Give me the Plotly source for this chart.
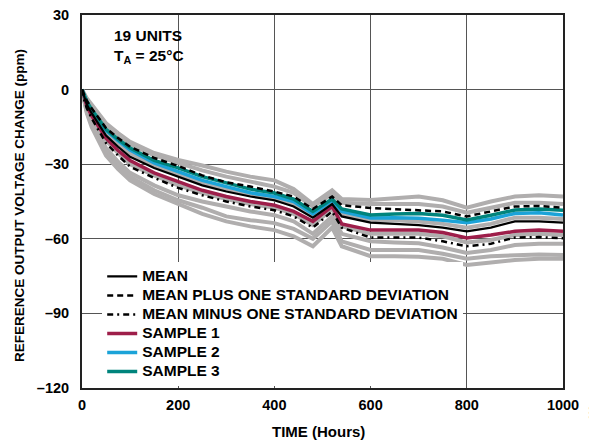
import plotly.graph_objects as go

hours = [0, 5, 10, 20, 35, 50, 75, 100, 150, 200, 250, 300, 350, 400, 440, 480,
         520, 540, 600, 650, 700, 750, 800, 850, 900, 950, 1000]

mean = [0, -3.5, -6, -9.5, -14, -18.5, -23, -27, -31.5, -35, -38.5, -41, -43, -44.5, -47, -51.5,
        -46, -51, -53.5, -54, -54.5, -55.5, -57, -55.5, -53, -53, -53.5]
mean_plus = [0, -2.5, -4.5, -7.5, -11.5, -15.5, -19.5, -23, -27.5, -30.7, -34.5, -37.3, -39, -41, -43, -48,
             -43, -46.5, -47.6, -48, -48.4, -49, -51, -49, -47, -46.8, -47.5]
mean_minus = [0, -4.5, -7.5, -11.5, -16.5, -21.5, -26.5, -31, -35.5, -39.5, -42.5, -45, -47, -48.5, -51, -55.5,
              -49, -55.5, -59.5, -59.5, -59.5, -61, -63, -62, -59.5, -59.3, -59.8]
sample1 = [0, -3.8, -6.5, -10.5, -15, -19.5, -24.5, -28.5, -33.5, -37, -40.5, -43, -45, -46.5, -49, -53,
           -47, -54, -56.5, -56.5, -56.5, -57.5, -59.7, -58.5, -57, -56.5, -57]
sample2 = [0, -2.8, -5, -8.5, -12.5, -16.5, -20.5, -24.3, -29.5, -33, -36.5, -39, -41.5, -43, -45, -50,
           -44.5, -49, -51.6, -51.5, -51.7, -52.5, -53.5, -52, -49.8, -49.5, -50.4]
sample3 = [0, -2.6, -4.8, -8, -12, -16, -20, -23.5, -28.5, -31.5, -35, -37.6, -40, -41.6, -44, -49,
           -44, -48, -50.4, -50, -49.8, -50.5, -52.4, -50.5, -48.4, -48, -48.5]

unit_a = [0, -2, -3.5, -6, -9.5, -13.5, -17.5, -21, -25.5, -28.3, -30.5, -33, -35, -36.5, -40, -46,
          -40.5, -44, -44.4, -43.5, -43, -44.5, -47.5, -45, -43, -42.5, -43]
unit_b = [0, -2.2, -4, -6.8, -10.5, -14.5, -18.5, -22, -26.5, -29.5, -32.5, -35, -37, -39, -41.5, -47,
          -42, -45.5, -46, -46, -46, -47, -49.5, -47.5, -45.5, -45.5, -46]
unit_c = [0, -3.2, -5.5, -9, -13.3, -17.5, -22, -25.5, -30.5, -34, -37.5, -40, -42, -44, -46, -50.5,
          -45, -50, -52.5, -52.5, -53, -54, -55.5, -54, -51.5, -51.5, -52]
unit_d = [0, -4.2, -7, -11, -15.8, -20.5, -25.5, -30, -34.5, -38.5, -41.5, -44, -46, -47.5, -50, -54.5,
          -48, -55, -58, -58, -58, -59, -61.5, -60.5, -58.5, -58, -58.5]
unit_e = [0, -5, -8.5, -13, -18.5, -23.5, -29, -33.5, -38.5, -42.5, -45, -47, -49, -50.5, -53, -58,
          -51, -58, -61, -61.5, -61.8, -63.5, -65.7, -64.5, -62.5, -62, -62]
unit_f = [0, -5.5, -9, -14, -19.5, -25, -30.5, -35, -40.5, -44.5, -47.5, -51, -52.5, -53.7, -56, -60,
          -53, -61, -64.5, -64.5, -64.5, -66, -68, -67, -66.5, -66.3, -66.5]
unit_g = [0, -6, -9.5, -15, -21, -26.5, -32, -36.5, -42, -46, -50, -53, -55, -56.5, -59, -63,
          -55.5, -63, -67, -67, -67.2, -68, -70.5, -69.5, -68.5, -68, -68]
gray_units = [unit_a, unit_b, unit_c, unit_d, unit_e, unit_f, unit_g]

x_ticks = [0, 200, 400, 600, 800, 1000]
y_ticks = [30, 0, -30, -60, -90, -120]
y_ticktext = ["30", "0", "–30", "–60", "–90", "–120"]

legend_names = ["MEAN", "MEAN PLUS ONE STANDARD DEVIATION", "MEAN MINUS ONE STANDARD DEVIATION",
                "SAMPLE 1", "SAMPLE 2", "SAMPLE 3"]


def big(t):
    return '<span style="font-size:15.5px">' + t + "</span>"


fig = go.Figure()

for u in gray_units:
    fig.add_trace(go.Scatter(x=hours, y=u, mode="lines", showlegend=False,
                             line=dict(color="#B0AEAE", width=4), hoverinfo="skip"))

fig.add_trace(go.Scatter(x=hours, y=sample1, mode="lines", name=big(legend_names[3]), legendrank=4,
                         line=dict(color="#9E1E4A", width=3.5)))
fig.add_trace(go.Scatter(x=hours, y=sample2, mode="lines", name=big(legend_names[4]), legendrank=5,
                         line=dict(color="#1BA3D8", width=3.5)))
fig.add_trace(go.Scatter(x=hours, y=sample3, mode="lines", name=big(legend_names[5]), legendrank=6,
                         line=dict(color="#00847C", width=3.5)))
fig.add_trace(go.Scatter(x=hours, y=mean, mode="lines", name=big(legend_names[0]), legendrank=1,
                         line=dict(color="black", width=2.2)))
fig.add_trace(go.Scatter(x=hours, y=mean_plus, mode="lines", name=big(legend_names[1]),
                         legendrank=2, line=dict(color="black", width=2.5, dash="6px,4px")))
fig.add_trace(go.Scatter(x=hours, y=mean_minus, mode="lines", name=big(legend_names[2]),
                         legendrank=3, line=dict(color="black", width=2.5, dash="6px,4px,2px,4px")))

fig.update_layout(
    width=589, height=432,
    margin=dict(l=74, r=34, t=7, b=52, autoexpand=False),
    paper_bgcolor="white", plot_bgcolor="white",
    font=dict(family="Liberation Sans, Arial, sans-serif", size=14, color="black", weight="bold"),
    showlegend=True,
    legend=dict(x=0.042, y=0.338, xanchor="left", yanchor="top", bgcolor="white",
                font=dict(size=12), tracegroupgap=0, traceorder="normal"),
    annotations=[
        dict(x=0.0624, y=0.973, xref="paper", yref="paper", xanchor="left", yanchor="top",
             text="19 UNITS", showarrow=False, font=dict(size=15.5)),
        dict(x=0.0624, y=0.919, xref="paper", yref="paper", xanchor="left", yanchor="top",
             text="T<sub>A</sub> = 25°C", showarrow=False, font=dict(size=15.5)),
        dict(x=-0.131, y=0.4906, xref="paper", yref="paper", xanchor="center", yanchor="middle",
             text="REFERENCE OUTPUT VOLTAGE CHANGE (ppm)", textangle=-90, showarrow=False,
             font=dict(size=13.5)),
        dict(x=0.4927, y=-0.1153, xref="paper", yref="paper", xanchor="center", yanchor="middle",
             text="TIME (Hours)", showarrow=False, font=dict(size=15)),
        dict(x=1.0582, y=-0.067, xref="paper", yref="paper", xanchor="center", yanchor="middle",
             text="060", textangle=90, showarrow=False,
             font=dict(size=8, color="#666666", weight="normal")),
    ],
)

fig.update_xaxes(range=[0, 1000], tickvals=x_ticks, ticks="", showgrid=True,
                 gridcolor="#555555", gridwidth=1, showline=True, linecolor="#222222",
                 linewidth=2, mirror=True, zeroline=False, ticklabelstandoff=3,
                 automargin=False, tickfont=dict(size=14.5), ticklabeloverflow="allow")
fig.update_yaxes(range=[-120, 30], tickvals=y_ticks, ticktext=y_ticktext, ticks="",
                 showgrid=True, gridcolor="#555555", gridwidth=1, showline=True,
                 linecolor="#222222", linewidth=2, mirror=True, zeroline=False,
                 ticklabelstandoff=8, automargin=False, tickfont=dict(size=14.5),
                 ticklabeloverflow="allow")

fig.write_html("out.html")
